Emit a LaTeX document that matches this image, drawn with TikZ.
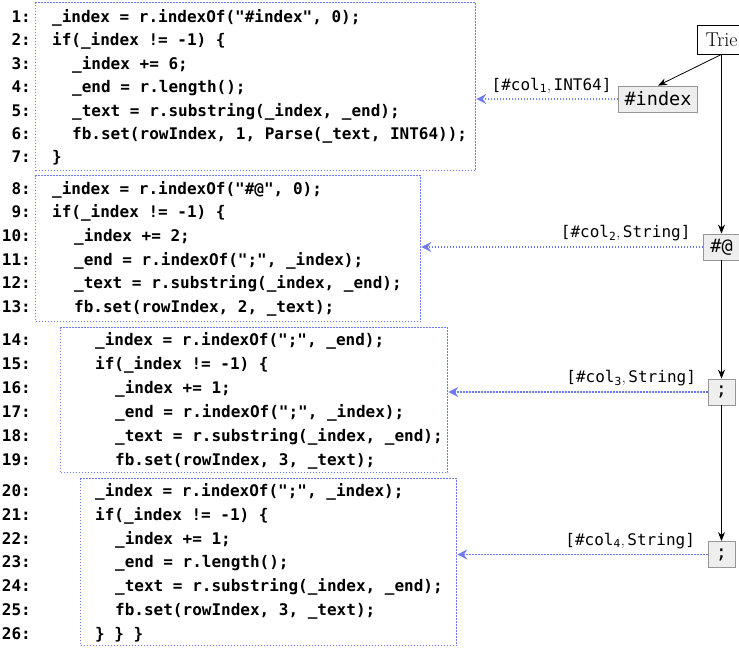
\documentclass[tikz,border=0pt]{standalone}
\usepackage{fontspec}
\setmonofont{DejaVu Sans Mono}
\usetikzlibrary{arrows.meta}

\definecolor{linkblue}{RGB}{108,124,240}
\definecolor{keyfill}{RGB}{238,238,238}
\definecolor{keyedge}{RGB}{150,150,150}

% one numbered line of generated code: number, baseline y, code x, code text
\newcommand\codeln[4]{%
  \node[lnum] (n#1) at (31,#2) {#1:};
  \node[code] (c#1) at (#3,#2) {#4};}

\begin{document}
\begin{tikzpicture}[x=1pt, y=-1pt,
  lnum/.style={anchor=base east, inner sep=0pt, font=\fontsize{16}{19}\selectfont\ttfamily\bfseries},
  code/.style={anchor=base west, inner sep=0pt, font=\fontsize{16}{19}\selectfont\ttfamily\bfseries},
  codebox/.style={draw=linkblue, line width=1.3pt, dash pattern=on 1.3pt off 1.7pt,
    anchor=north west, inner sep=0pt},
  key/.style={draw=keyedge, fill=keyfill, line width=0.8pt,
    font=\fontsize{18.5}{22}\selectfont\ttfamily, inner xsep=6pt, inner ysep=0pt,
    minimum height=26pt},
  root/.style={draw, fill=white, line width=0.8pt, font=\fontsize{20}{24}\selectfont,
    inner xsep=8pt, inner ysep=0pt, minimum height=29pt},
  tedge/.style={-{Stealth[length=9pt,width=7pt,inset=3pt]}, line width=0.8pt},
  link/.style={linkblue, line width=1.4pt, dash pattern=on 1.4pt off 1.6pt,
    -{Stealth[length=10pt,width=10pt,inset=3.5pt]}},
  lbl/.style={anchor=south east, inner sep=0pt, text=black,
    font=\fontsize{16}{19}\selectfont\ttfamily}]

\fill[white] (0,0) rectangle (739,650);
\useasboundingbox (0,0) rectangle (739,650);

% dotted frames around the four code blocks
\node[codebox, minimum width=440pt, minimum height=168pt] (b1) at (35,2) {};
\node[codebox, minimum width=385pt, minimum height=146pt] (b2) at (35,175) {};
\node[codebox, minimum width=387pt, minimum height=145pt] (b3) at (60,327) {};
\node[codebox, minimum width=376pt, minimum height=167pt] (b4) at (80,478) {};

% block 1
\codeln{1}{22.5}{52}{\_index = r.indexOf("\#index", 0);}
\codeln{2}{45.9}{52}{if(\_index != -1) \{}
\codeln{3}{69.3}{72}{\_index += 6;}
\codeln{4}{92.7}{72}{\_end = r.length();}
\codeln{5}{116.1}{72}{\_text = r.substring(\_index, \_end);}
\codeln{6}{139.5}{72}{fb.set(rowIndex, 1, Parse(\_text, INT64));}
\codeln{7}{162.9}{52}{\}}

% block 2
\codeln{8}{194.1}{52}{\_index = r.indexOf("\#@", 0);}
\codeln{9}{217.8}{52}{if(\_index != -1) \{}
\codeln{10}{241.5}{74}{\_index += 2;}
\codeln{11}{265.2}{74}{\_end = r.indexOf(";", \_index);}
\codeln{12}{288.9}{74}{\_text = r.substring(\_index, \_end);}
\codeln{13}{312.6}{74}{fb.set(rowIndex, 2, \_text);}

% block 3
\codeln{14}{345.8}{95}{\_index = r.indexOf(";", \_end);}
\codeln{15}{369.8}{95}{if(\_index != -1) \{}
\codeln{16}{393.8}{115}{\_index += 1;}
\codeln{17}{417.8}{115}{\_end = r.indexOf(";", \_index);}
\codeln{18}{441.8}{115}{\_text = r.substring(\_index, \_end);}
\codeln{19}{465.8}{115}{fb.set(rowIndex, 3, \_text);}

% block 4
\codeln{20}{496.5}{95}{\_index = r.indexOf(";", \_index);}
\codeln{21}{520.3}{95}{if(\_index != -1) \{}
\codeln{22}{544.1}{115}{\_index += 1;}
\codeln{23}{567.9}{115}{\_end = r.length();}
\codeln{24}{591.7}{115}{\_text = r.substring(\_index, \_end);}
\codeln{25}{615.5}{115}{fb.set(rowIndex, 3, \_text);}
\codeln{26}{639.3}{95}{\} \} \}}

% trie
\node[root] (trie) at (721.5,39.5) {Trie};
\node[key] (idx) at (658,99) {\#index};
\node[key, minimum width=36pt] (at) at (721.5,247) {\#@};
\node[key, minimum width=27pt] (s1) at (721.5,392) {;};
\node[key, minimum width=27pt] (s2) at (721.5,554.5) {;};

\draw[tedge] (trie.south) -- (idx.north);
\draw[tedge] (trie.south) -- (at.north);
\draw[tedge] (at.south) -- (s1.north);
\draw[tedge] (s1.south) -- (s2.north);

% trie keys feeding the code blocks
\draw[link] (idx.west) -- (idx.west -| b1.east)
  node[lbl, pos=0, xshift=-6pt, yshift=5pt] {[\#col\textsubscript{1}{\rmfamily ,}\,INT64]};
\draw[link] (at.west) -- (at.west -| b2.east)
  node[lbl, pos=0, xshift=-12pt, yshift=5pt] {[\#col\textsubscript{2}{\rmfamily ,}\,String]};
\draw[link] (s1.west) -- (s1.west -| b3.east)
  node[lbl, pos=0, xshift=-11pt, yshift=5pt] {[\#col\textsubscript{3}{\rmfamily ,}\,String]};
\draw[link] (s2.west) -- (s2.west -| b4.east)
  node[lbl, pos=0, xshift=-12pt, yshift=5pt] {[\#col\textsubscript{4}{\rmfamily ,}\,String]};
\end{tikzpicture}
\end{document}
